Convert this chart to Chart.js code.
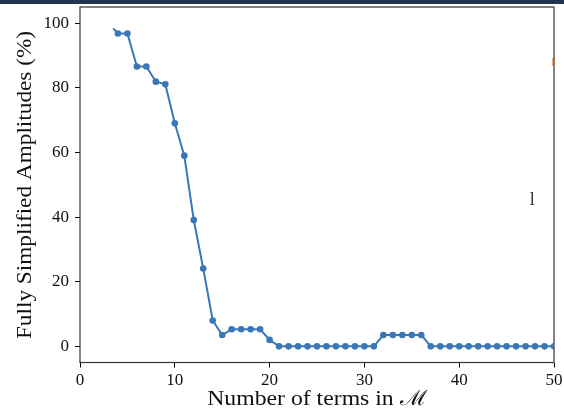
<!DOCTYPE html>
<html>
<head>
<meta charset="utf-8">
<script src="https://cdn.jsdelivr.net/npm/chart.js@4/dist/chart.umd.min.js"></script>
<style>
  html, body { margin: 0; padding: 0; background: #fff; }
  #wrap { width: 564px; height: 409px; }
</style>
</head>
<body>
<div id="wrap"><canvas id="amplitudesChart" width="564" height="409"></canvas></div>
<script>
// number of terms vs. share of fully simplified amplitudes
const termCounts = [3.5, 4, 5, 6, 7, 8, 9, 10, 11, 12, 13, 14, 15, 16, 17, 18, 19, 20,
  21, 22, 23, 24, 25, 26, 27, 28, 29, 30, 31, 32, 33, 34, 35, 36, 37, 38, 39, 40,
  41, 42, 43, 44, 45, 46, 47, 48, 49, 50];
const simplifiedPct = [98.4, 96.8, 96.8, 86.6, 86.6, 81.9, 81.1, 69.0, 59.0, 39.1, 24.1, 8.0, 3.5, 5.3, 5.3, 5.3, 5.3, 2.0,
  0, 0, 0, 0, 0, 0, 0, 0, 0, 0, 0, 3.5, 3.5, 3.5, 3.5, 3.5, 0, 0, 0, 0,
  0, 0, 0, 0, 0, 0, 0, 0, 0, 0];

// second series, only its last point reaches the axes
const otherCounts = [50];
const otherPct = [88];

// stray glyph inside the axes
const noteX = [47.7];
const noteY = [45.5];
const noteText = ['l'];

const xTicks = [0, 10, 20, 30, 40, 50];
const yTicks = [0, 20, 40, 60, 80, 100];

const blue = '#3a77b6';
const serif = '"Liberation Serif", "DejaVu Serif", serif';
const titleStretch = 1.13;

// white page, dark strip across the top, box round the axes
const framePlugin = {
  id: 'frame',
  beforeDraw(chart) {
    const ctx = chart.ctx;
    ctx.save();
    ctx.fillStyle = '#fff';
    ctx.fillRect(0, 0, chart.width, chart.height);
    ctx.fillStyle = '#1f3552';
    ctx.fillRect(0, 0, chart.width, 4);
    ctx.restore();
  },
  beforeDatasetsDraw(chart) {
    const ctx = chart.ctx;
    const a = chart.chartArea;
    ctx.save();
    ctx.strokeStyle = '#333';
    ctx.lineWidth = 1.2;
    ctx.strokeRect(a.left, a.top, a.right - a.left, a.bottom - a.top);
    ctx.restore();
  },
  afterDraw(chart) {
    const ctx = chart.ctx;
    const a = chart.chartArea;
    const xs = chart.scales.x, ys = chart.scales.y;

    ctx.save();
    ctx.fillStyle = '#111';
    ctx.textBaseline = 'alphabetic';
    ctx.font = '21px ' + serif;
    ctx.textAlign = 'center';
    // x title, a little wider than the plain font
    ctx.save();
    ctx.translate((a.left + a.right) / 2, 405);
    ctx.scale(titleStretch, 1);
    ctx.fillText('Number of terms in ℳ', 0, 0);
    ctx.restore();
    // y title
    ctx.save();
    ctx.translate(31, 185);
    ctx.rotate(-Math.PI / 2);
    ctx.scale(titleStretch * 0.98, 1);
    ctx.fillText('Fully Simplified Amplitudes (%)', 0, 0);
    ctx.restore();

    // stray glyph
    ctx.fillStyle = '#333';
    ctx.font = '18px ' + serif;
    noteText.forEach((t, i) => {
      ctx.fillText(t, xs.getPixelForValue(noteX[i]), ys.getPixelForValue(noteY[i]) + 6);
    });
    ctx.restore();
  }
};

new Chart(document.getElementById('amplitudesChart'), {
  type: 'line',
  data: {
    datasets: [
      {
        data: termCounts.map((x, i) => ({ x: x, y: simplifiedPct[i] })),
        borderColor: blue,
        backgroundColor: blue,
        borderWidth: 2,
        pointRadius: termCounts.map(x => (Number.isInteger(x) ? 3.3 : 0)),
        pointBorderWidth: 0,
        tension: 0,
        clip: 0
      },
      {
        data: otherCounts.map((x, i) => ({ x: x, y: otherPct[i] })),
        showLine: false,
        pointStyle: 'line',
        rotation: 90,
        pointRadius: 4,
        borderColor: '#c8651b',
        borderWidth: 3,
        clip: { left: 0, top: 0, right: 0.5, bottom: 0 }
      }
    ]
  },
  options: {
    responsive: false,
    animation: false,
    devicePixelRatio: 1,
    layout: { padding: { left: 0, top: 7, right: 10, bottom: 0 } },
    plugins: {
      legend: { display: false },
      tooltip: { enabled: false }
    },
    scales: {
      x: {
        type: 'linear',
        min: 0,
        max: 50,
        afterFit: s => { s.height = 46.5; s.paddingLeft = 0; s.paddingRight = 0; },
        afterBuildTicks: s => { s.ticks = xTicks.map(v => ({ value: v })); },
        grid: { drawOnChartArea: false, color: '#000', tickLength: 5, tickWidth: 1 },
        border: { display: false },
        ticks: { color: '#111', font: { family: serif, size: 17 }, padding: 3, maxRotation: 0 }
      },
      y: {
        type: 'linear',
        min: -5,
        max: 105,
        afterFit: s => { s.width = 80; s.paddingTop = 0; s.paddingBottom = 0; },
        afterBuildTicks: s => { s.ticks = yTicks.map(v => ({ value: v })); },
        grid: { drawOnChartArea: false, color: '#000', tickLength: 5, tickWidth: 1 },
        border: { display: false },
        ticks: { color: '#111', font: { family: serif, size: 17 }, padding: 6 }
      }
    }
  },
  plugins: [framePlugin]
});
</script>
</body>
</html>
